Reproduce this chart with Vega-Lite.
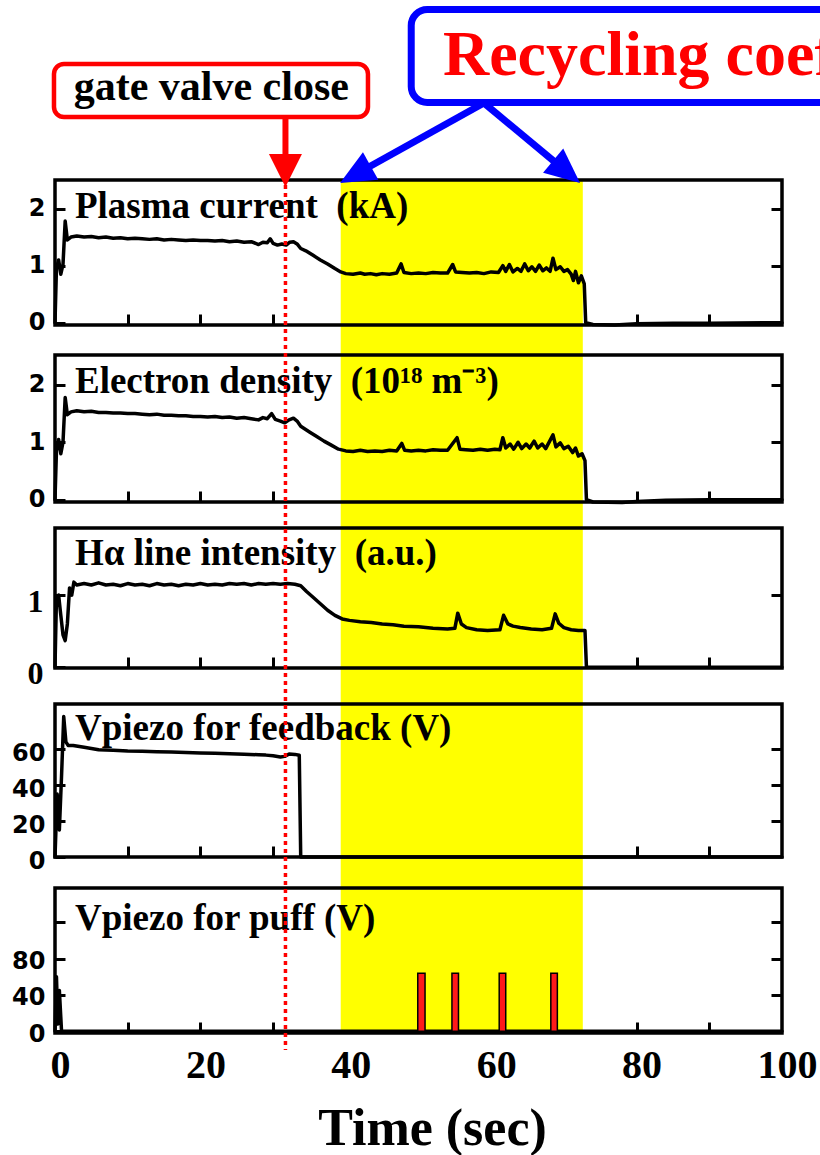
{
  "$schema": "https://vega.github.io/schema/vega-lite/v6.json",
  "width": 727,
  "height": 853,
  "autosize": {"type": "none"},
  "padding": {"left": 55, "top": 180, "right": 38, "bottom": 122},
  "background": "white",
  "config": {
    "view": {"stroke": null},
    "font": "Liberation Serif",
    "axis": {"grid": false, "domain": false, "labelColor": "black", "tickColor": "black", "tickWidth": 3, "titleColor": "black"}
  },
  "datasets": {
    "ip": [
      {"t": 0, "v": 0}, {"t": 0.2, "v": 0.95}, {"t": 0.5, "v": 1.1}, {"t": 0.8, "v": 0.85}, {"t": 1.1, "v": 1.02}, {"t": 1.4, "v": 1.78}, {"t": 1.7, "v": 1.45}, {"t": 2.2, "v": 1.5}, {"t": 3, "v": 1.52}, {"t": 4, "v": 1.5}, {"t": 5, "v": 1.51}, {"t": 6, "v": 1.49}, {"t": 7, "v": 1.5}, {"t": 8, "v": 1.48}, {"t": 9, "v": 1.49}, {"t": 10, "v": 1.47}, {"t": 11, "v": 1.48}, {"t": 12, "v": 1.47}, {"t": 13, "v": 1.46}, {"t": 14, "v": 1.47}, {"t": 15, "v": 1.45}, {"t": 16, "v": 1.46}, {"t": 17, "v": 1.45}, {"t": 18, "v": 1.44}, {"t": 19, "v": 1.45}, {"t": 20, "v": 1.44}, {"t": 21, "v": 1.44}, {"t": 22, "v": 1.43}, {"t": 23, "v": 1.44}, {"t": 24, "v": 1.42}, {"t": 25, "v": 1.43}, {"t": 26, "v": 1.41}, {"t": 27, "v": 1.42}, {"t": 28, "v": 1.37}, {"t": 28.6, "v": 1.41}, {"t": 29.2, "v": 1.4}, {"t": 29.6, "v": 1.47}, {"t": 30, "v": 1.39}, {"t": 30.6, "v": 1.36}, {"t": 31.2, "v": 1.38}, {"t": 31.8, "v": 1.36}, {"t": 32.3, "v": 1.41}, {"t": 32.8, "v": 1.42}, {"t": 33.3, "v": 1.38}, {"t": 33.8, "v": 1.3}, {"t": 34.5, "v": 1.26}, {"t": 35.5, "v": 1.18}, {"t": 36.5, "v": 1.1}, {"t": 37.5, "v": 1.03}, {"t": 38.5, "v": 0.95}, {"t": 39.3, "v": 0.89}, {"t": 40, "v": 0.86}, {"t": 41, "v": 0.85}, {"t": 42, "v": 0.87}, {"t": 42.6, "v": 0.85}, {"t": 43.4, "v": 0.86}, {"t": 44.2, "v": 0.84}, {"t": 45, "v": 0.86}, {"t": 46, "v": 0.85}, {"t": 47, "v": 0.87}, {"t": 47.6, "v": 1.03}, {"t": 48, "v": 0.88}, {"t": 49, "v": 0.86}, {"t": 50, "v": 0.87}, {"t": 51, "v": 0.86}, {"t": 52, "v": 0.88}, {"t": 53, "v": 0.87}, {"t": 54, "v": 0.87}, {"t": 54.7, "v": 1.02}, {"t": 55.1, "v": 0.89}, {"t": 56, "v": 0.88}, {"t": 57, "v": 0.87}, {"t": 58, "v": 0.88}, {"t": 59, "v": 0.86}, {"t": 60, "v": 0.89}, {"t": 61, "v": 0.88}, {"t": 61.6, "v": 1.0}, {"t": 62, "v": 0.9}, {"t": 62.5, "v": 1.02}, {"t": 63, "v": 0.89}, {"t": 63.6, "v": 0.95}, {"t": 64.1, "v": 0.9}, {"t": 64.6, "v": 1.03}, {"t": 65.1, "v": 0.91}, {"t": 65.6, "v": 0.98}, {"t": 66.1, "v": 0.9}, {"t": 66.6, "v": 1.01}, {"t": 67.1, "v": 0.91}, {"t": 67.6, "v": 0.96}, {"t": 68.1, "v": 0.9}, {"t": 68.5, "v": 1.13}, {"t": 68.9, "v": 0.93}, {"t": 69.5, "v": 0.98}, {"t": 70, "v": 0.9}, {"t": 70.5, "v": 0.93}, {"t": 71, "v": 0.85}, {"t": 71.3, "v": 0.74}, {"t": 71.6, "v": 0.9}, {"t": 72, "v": 0.7}, {"t": 72.4, "v": 0.82}, {"t": 72.8, "v": 0.68}, {"t": 73, "v": 0}, {"t": 74, "v": -0.03}, {"t": 77, "v": -0.04}, {"t": 80, "v": -0.02}, {"t": 85, "v": -0.01}, {"t": 90, "v": -0.01}, {"t": 100, "v": 0}
    ],
    "ne": [
      {"t": 0, "v": 0}, {"t": 0.2, "v": 0.85}, {"t": 0.5, "v": 1.05}, {"t": 0.8, "v": 0.8}, {"t": 1.1, "v": 1.0}, {"t": 1.4, "v": 1.78}, {"t": 1.7, "v": 1.48}, {"t": 2.2, "v": 1.53}, {"t": 3, "v": 1.55}, {"t": 4, "v": 1.53}, {"t": 5, "v": 1.54}, {"t": 6, "v": 1.52}, {"t": 7, "v": 1.52}, {"t": 8, "v": 1.51}, {"t": 9, "v": 1.51}, {"t": 10, "v": 1.5}, {"t": 11, "v": 1.5}, {"t": 12, "v": 1.49}, {"t": 13, "v": 1.48}, {"t": 14, "v": 1.49}, {"t": 15, "v": 1.47}, {"t": 16, "v": 1.47}, {"t": 17, "v": 1.46}, {"t": 18, "v": 1.46}, {"t": 19, "v": 1.45}, {"t": 20, "v": 1.45}, {"t": 21, "v": 1.44}, {"t": 22, "v": 1.45}, {"t": 23, "v": 1.43}, {"t": 24, "v": 1.44}, {"t": 25, "v": 1.42}, {"t": 26, "v": 1.43}, {"t": 27, "v": 1.41}, {"t": 28, "v": 1.39}, {"t": 28.6, "v": 1.43}, {"t": 29.2, "v": 1.41}, {"t": 29.8, "v": 1.5}, {"t": 30.3, "v": 1.4}, {"t": 31, "v": 1.37}, {"t": 31.6, "v": 1.34}, {"t": 32.2, "v": 1.39}, {"t": 32.8, "v": 1.42}, {"t": 33.3, "v": 1.37}, {"t": 33.8, "v": 1.28}, {"t": 35, "v": 1.18}, {"t": 36, "v": 1.1}, {"t": 37, "v": 1.02}, {"t": 38, "v": 0.95}, {"t": 39, "v": 0.88}, {"t": 40, "v": 0.85}, {"t": 41, "v": 0.84}, {"t": 42, "v": 0.86}, {"t": 43, "v": 0.84}, {"t": 44, "v": 0.85}, {"t": 45, "v": 0.84}, {"t": 46, "v": 0.86}, {"t": 47, "v": 0.85}, {"t": 47.7, "v": 0.98}, {"t": 48.1, "v": 0.86}, {"t": 49, "v": 0.85}, {"t": 50, "v": 0.86}, {"t": 51, "v": 0.85}, {"t": 52, "v": 0.87}, {"t": 53, "v": 0.86}, {"t": 54, "v": 0.86}, {"t": 55.3, "v": 1.08}, {"t": 55.7, "v": 0.88}, {"t": 56.5, "v": 0.87}, {"t": 57.5, "v": 0.86}, {"t": 58.5, "v": 0.88}, {"t": 59.5, "v": 0.86}, {"t": 60.5, "v": 0.88}, {"t": 61.2, "v": 0.87}, {"t": 61.6, "v": 1.08}, {"t": 62, "v": 0.9}, {"t": 62.6, "v": 0.97}, {"t": 63.1, "v": 0.88}, {"t": 63.7, "v": 1.0}, {"t": 64.2, "v": 0.89}, {"t": 64.8, "v": 0.97}, {"t": 65.3, "v": 0.9}, {"t": 65.9, "v": 1.02}, {"t": 66.4, "v": 0.9}, {"t": 67, "v": 0.97}, {"t": 67.5, "v": 0.89}, {"t": 68.5, "v": 1.13}, {"t": 68.9, "v": 0.92}, {"t": 69.5, "v": 0.99}, {"t": 70, "v": 0.89}, {"t": 70.6, "v": 0.93}, {"t": 71.2, "v": 0.82}, {"t": 71.6, "v": 0.9}, {"t": 72, "v": 0.76}, {"t": 72.5, "v": 0.8}, {"t": 72.9, "v": 0.68}, {"t": 73.1, "v": 0}, {"t": 74, "v": -0.04}, {"t": 78, "v": -0.05}, {"t": 80, "v": -0.03}, {"t": 84, "v": -0.01}, {"t": 90, "v": 0}, {"t": 100, "v": 0}
    ],
    "ha": [
      {"t": 0, "v": 0}, {"t": 0.2, "v": 0.95}, {"t": 0.5, "v": 1.0}, {"t": 0.8, "v": 0.72}, {"t": 1.1, "v": 0.45}, {"t": 1.4, "v": 0.37}, {"t": 1.7, "v": 0.6}, {"t": 2.0, "v": 1.1}, {"t": 2.3, "v": 1.0}, {"t": 2.6, "v": 1.18}, {"t": 3, "v": 1.14}, {"t": 4, "v": 1.16}, {"t": 5, "v": 1.14}, {"t": 6, "v": 1.17}, {"t": 7, "v": 1.14}, {"t": 8, "v": 1.15}, {"t": 9, "v": 1.13}, {"t": 10, "v": 1.16}, {"t": 11, "v": 1.14}, {"t": 12, "v": 1.15}, {"t": 13, "v": 1.13}, {"t": 14, "v": 1.16}, {"t": 15, "v": 1.14}, {"t": 16, "v": 1.15}, {"t": 17, "v": 1.13}, {"t": 18, "v": 1.15}, {"t": 19, "v": 1.14}, {"t": 20, "v": 1.16}, {"t": 21, "v": 1.14}, {"t": 22, "v": 1.15}, {"t": 23, "v": 1.14}, {"t": 24, "v": 1.16}, {"t": 25, "v": 1.15}, {"t": 26, "v": 1.16}, {"t": 27, "v": 1.14}, {"t": 28, "v": 1.16}, {"t": 29, "v": 1.15}, {"t": 30, "v": 1.16}, {"t": 31, "v": 1.15}, {"t": 32, "v": 1.16}, {"t": 33, "v": 1.15}, {"t": 33.8, "v": 1.13}, {"t": 34.6, "v": 1.05}, {"t": 35.5, "v": 0.97}, {"t": 36.5, "v": 0.88}, {"t": 37.5, "v": 0.79}, {"t": 38.5, "v": 0.72}, {"t": 39.5, "v": 0.67}, {"t": 40.5, "v": 0.65}, {"t": 42, "v": 0.63}, {"t": 43.5, "v": 0.62}, {"t": 45, "v": 0.6}, {"t": 46.5, "v": 0.59}, {"t": 48, "v": 0.57}, {"t": 50, "v": 0.56}, {"t": 52, "v": 0.54}, {"t": 54, "v": 0.53}, {"t": 55, "v": 0.54}, {"t": 55.4, "v": 0.75}, {"t": 55.9, "v": 0.6}, {"t": 56.6, "v": 0.55}, {"t": 58, "v": 0.52}, {"t": 59.5, "v": 0.51}, {"t": 61.2, "v": 0.52}, {"t": 61.7, "v": 0.72}, {"t": 62.3, "v": 0.6}, {"t": 63, "v": 0.57}, {"t": 64, "v": 0.55}, {"t": 65.5, "v": 0.53}, {"t": 67, "v": 0.52}, {"t": 68.3, "v": 0.54}, {"t": 68.8, "v": 0.74}, {"t": 69.3, "v": 0.61}, {"t": 70, "v": 0.55}, {"t": 71, "v": 0.52}, {"t": 72, "v": 0.51}, {"t": 72.9, "v": 0.51}, {"t": 73.1, "v": 0}, {"t": 100, "v": 0}
    ],
    "vfb": [
      {"t": 0, "v": 0}, {"t": 0.3, "v": 35}, {"t": 0.6, "v": 15}, {"t": 0.9, "v": 45}, {"t": 1.2, "v": 78}, {"t": 1.5, "v": 64}, {"t": 1.8, "v": 62}, {"t": 2.5, "v": 62}, {"t": 4, "v": 61}, {"t": 6, "v": 59.6}, {"t": 8, "v": 59.3}, {"t": 10, "v": 58.9}, {"t": 12, "v": 58.8}, {"t": 14, "v": 58.5}, {"t": 16, "v": 58.3}, {"t": 18, "v": 58}, {"t": 20, "v": 57.8}, {"t": 22, "v": 57.6}, {"t": 24, "v": 57.3}, {"t": 26, "v": 57.1}, {"t": 28, "v": 56.8}, {"t": 29, "v": 56.6}, {"t": 30, "v": 56.2}, {"t": 31, "v": 55.6}, {"t": 31.6, "v": 55.9}, {"t": 32.2, "v": 57.2}, {"t": 33, "v": 57}, {"t": 33.6, "v": 56.5}, {"t": 33.8, "v": 0}, {"t": 100, "v": 0}
    ],
    "vpuff": [
      {"t": 0, "v": 0}, {"t": 0.2, "v": 60}, {"t": 0.4, "v": 8}, {"t": 0.6, "v": 45}, {"t": 0.9, "v": 0}, {"t": 100, "v": 0}
    ],
    "puffs": [
      {"start": 49.9, "end": 50.9, "v": 64},
      {"start": 54.6, "end": 55.5, "v": 64},
      {"start": 61.1, "end": 62.0, "v": 64},
      {"start": 68.2, "end": 69.1, "v": 64}
    ]
  },
  "layer": [
    {
      "data": {"values": [{"start": 39.3, "end": 72.6}]},
      "mark": {"type": "rect", "color": "#ffff00", "opacity": 1},
      "encoding": {
        "x": {"field": "start", "type": "quantitative", "scale": {"domain": [0, 100], "nice": false, "zero": false}, "axis": null},
        "x2": {"field": "end"}
      }
    },
    {
      "layer": [
        {
          "data": {"name": "ip"},
          "mark": {"type": "line", "color": "black", "strokeWidth": 3.5, "strokeJoin": "round", "strokeCap": "round"},
          "encoding": {
            "x": {"field": "t", "type": "quantitative", "scale": {"domain": [0, 100], "nice": false, "zero": false}, "axis": null},
            "y": {"field": "v", "type": "quantitative", "scale": {"domain": [-0.04, 2.5], "range": [145, 0], "nice": false, "zero": false},
              "axis": {"orient": "left", "values": [0, 1, 2], "tickSize": -10, "labelPadding": 20, "labelFont": "DejaVu Sans", "labelFontWeight": "bold", "labelFontSize": 24, "title": null}}
          }
        },
        {
          "data": {"values": [{}]},
          "mark": {"type": "rect", "filled": false, "color": "black", "strokeWidth": 3.5},
          "encoding": {
            "x": {"datum": 0, "type": "quantitative", "scale": {"domain": [0, 100], "nice": false, "zero": false},
              "axis": {"orient": "bottom", "offset": -708, "values": [10, 20, 30, 40, 50, 60, 70, 80, 90], "labels": false, "tickSize": -11, "title": null}},
            "x2": {"datum": 100},
            "y": {"datum": -0.04, "type": "quantitative", "scale": {"domain": [-0.04, 2.5], "range": [145, 0], "nice": false, "zero": false},
              "axis": {"orient": "right", "values": [1, 2], "labels": false, "tickSize": -11, "title": null}},
            "y2": {"datum": 2.5}
          }
        },
        {
          "data": {"values": [{}]},
          "mark": {"type": "text", "text": "Plasma current\u00a0 (kA)", "align": "left", "baseline": "alphabetic", "font": "Liberation Serif", "fontWeight": "bold", "fontSize": 37, "color": "black"},
          "encoding": {
            "x": {"datum": 2.75, "type": "quantitative", "scale": {"domain": [0, 100], "nice": false, "zero": false}, "axis": null},
            "y": {"datum": 1.834, "type": "quantitative", "scale": {"domain": [-0.04, 2.5], "range": [145, 0], "nice": false, "zero": false}, "axis": null}
          }
        }
      ],
      "resolve": {"axis": {"x": "independent", "y": "independent"}}
    },
    {
      "layer": [
        {
          "data": {"name": "ne"},
          "mark": {"type": "line", "color": "black", "strokeWidth": 3.5, "strokeJoin": "round", "strokeCap": "round"},
          "encoding": {
            "x": {"field": "t", "type": "quantitative", "scale": {"domain": [0, 100], "nice": false, "zero": false}, "axis": null},
            "y": {"field": "v", "type": "quantitative", "scale": {"domain": [-0.04, 2.52], "range": [322, 175], "nice": false, "zero": false},
              "axis": {"orient": "left", "values": [0, 1, 2], "tickSize": -10, "labelPadding": 20, "labelFont": "DejaVu Sans", "labelFontWeight": "bold", "labelFontSize": 24, "title": null}}
          }
        },
        {
          "data": {"values": [{}]},
          "mark": {"type": "rect", "filled": false, "color": "black", "strokeWidth": 3.5},
          "encoding": {
            "x": {"datum": 0, "type": "quantitative", "scale": {"domain": [0, 100], "nice": false, "zero": false},
              "axis": {"orient": "bottom", "offset": -531, "values": [10, 20, 30, 40, 50, 60, 70, 80, 90], "labels": false, "tickSize": -11, "title": null}},
            "x2": {"datum": 100},
            "y": {"datum": -0.04, "type": "quantitative", "scale": {"domain": [-0.04, 2.52], "range": [322, 175], "nice": false, "zero": false},
              "axis": {"orient": "right", "values": [1, 2], "labels": false, "tickSize": -11, "title": null}},
            "y2": {"datum": 2.52}
          }
        },
        {
          "data": {"values": [{}]},
          "mark": {"type": "text", "text": "Electron density\u00a0 (10¹⁸ m⁻³)", "align": "left", "baseline": "alphabetic", "font": "Liberation Serif", "fontWeight": "bold", "fontSize": 37, "color": "black"},
          "encoding": {
            "x": {"datum": 2.75, "type": "quantitative", "scale": {"domain": [0, 100], "nice": false, "zero": false}, "axis": null},
            "y": {"datum": 1.858, "type": "quantitative", "scale": {"domain": [-0.04, 2.52], "range": [322, 175], "nice": false, "zero": false}, "axis": null}
          }
        }
      ],
      "resolve": {"axis": {"x": "independent", "y": "independent"}}
    },
    {
      "layer": [
        {
          "data": {"name": "ha"},
          "mark": {"type": "line", "color": "black", "strokeWidth": 3.5, "strokeJoin": "round", "strokeCap": "round"},
          "encoding": {
            "x": {"field": "t", "type": "quantitative", "scale": {"domain": [0, 100], "nice": false, "zero": false}, "axis": null},
            "y": {"field": "v", "type": "quantitative", "scale": {"domain": [-0.01, 1.93], "range": [488, 348], "nice": false, "zero": false},
              "axis": {"orient": "left", "values": [0, 1], "tickSize": -10, "labelPadding": 22, "labelOffset": 6, "labelFont": "Liberation Serif", "labelFontWeight": "bold", "labelFontSize": 32, "title": null}}
          }
        },
        {
          "data": {"values": [{}]},
          "mark": {"type": "rect", "filled": false, "color": "black", "strokeWidth": 3.5},
          "encoding": {
            "x": {"datum": 0, "type": "quantitative", "scale": {"domain": [0, 100], "nice": false, "zero": false},
              "axis": {"orient": "bottom", "offset": -365, "values": [10, 20, 30, 40, 50, 60, 70, 80, 90], "labels": false, "tickSize": -11, "title": null}},
            "x2": {"datum": 100},
            "y": {"datum": -0.01, "type": "quantitative", "scale": {"domain": [-0.01, 1.93], "range": [488, 348], "nice": false, "zero": false},
              "axis": {"orient": "right", "values": [1], "labels": false, "tickSize": -11, "title": null}},
            "y2": {"datum": 1.93}
          }
        },
        {
          "data": {"values": [{}]},
          "mark": {"type": "text", "text": "Hα line intensity\u00a0 (a.u.)", "align": "left", "baseline": "alphabetic", "font": "Liberation Serif", "fontWeight": "bold", "fontSize": 37, "color": "black"},
          "encoding": {
            "x": {"datum": 2.75, "type": "quantitative", "scale": {"domain": [0, 100], "nice": false, "zero": false}, "axis": null},
            "y": {"datum": 1.417, "type": "quantitative", "scale": {"domain": [-0.01, 1.93], "range": [488, 348], "nice": false, "zero": false}, "axis": null}
          }
        }
      ],
      "resolve": {"axis": {"x": "independent", "y": "independent"}}
    },
    {
      "layer": [
        {
          "data": {"name": "vfb"},
          "mark": {"type": "line", "color": "black", "strokeWidth": 3.5, "strokeJoin": "round", "strokeCap": "round"},
          "encoding": {
            "x": {"field": "t", "type": "quantitative", "scale": {"domain": [0, 100], "nice": false, "zero": false}, "axis": null},
            "y": {"field": "v", "type": "quantitative", "scale": {"domain": [0, 85], "range": [677, 524], "nice": false, "zero": false},
              "axis": {"orient": "left", "values": [0, 20, 40, 60], "tickSize": -10, "labelPadding": 20, "labelOffset": 4, "labelFont": "DejaVu Sans", "labelFontWeight": "bold", "labelFontSize": 24, "title": null}}
          }
        },
        {
          "data": {"values": [{}]},
          "mark": {"type": "rect", "filled": false, "color": "black", "strokeWidth": 3.5},
          "encoding": {
            "x": {"datum": 0, "type": "quantitative", "scale": {"domain": [0, 100], "nice": false, "zero": false},
              "axis": {"orient": "bottom", "offset": -176, "values": [10, 20, 30, 40, 50, 60, 70, 80, 90], "labels": false, "tickSize": -11, "title": null}},
            "x2": {"datum": 100},
            "y": {"datum": 0, "type": "quantitative", "scale": {"domain": [0, 85], "range": [677, 524], "nice": false, "zero": false},
              "axis": {"orient": "right", "values": [20, 40, 60], "labels": false, "tickSize": -11, "title": null}},
            "y2": {"datum": 85}
          }
        },
        {
          "data": {"values": [{}]},
          "mark": {"type": "text", "text": "Vpiezo for feedback (V)", "align": "left", "baseline": "alphabetic", "font": "Liberation Serif", "fontWeight": "bold", "fontSize": 37, "color": "black"},
          "encoding": {
            "x": {"datum": 2.75, "type": "quantitative", "scale": {"domain": [0, 100], "nice": false, "zero": false}, "axis": null},
            "y": {"datum": 65, "type": "quantitative", "scale": {"domain": [0, 85], "range": [677, 524], "nice": false, "zero": false}, "axis": null}
          }
        }
      ],
      "resolve": {"axis": {"x": "independent", "y": "independent"}}
    },
    {
      "layer": [
        {
          "data": {"name": "vpuff"},
          "mark": {"type": "line", "color": "black", "strokeWidth": 3.5, "strokeJoin": "round", "strokeCap": "round"},
          "encoding": {
            "x": {"field": "t", "type": "quantitative", "scale": {"domain": [0, 100], "nice": false, "zero": false},
              "axis": {"orient": "bottom", "values": [0, 20, 40, 60, 80, 100], "ticks": false, "labelPadding": 12, "labelOffset": 5, "labelFlush": false, "labelOverlap": false, "labelFont": "Liberation Serif", "labelFontWeight": "bold", "labelFontSize": 40,
                "title": "Time (sec)", "titleFont": "Liberation Serif", "titleFontWeight": "bold", "titleFontSize": 52, "titleBaseline": "alphabetic", "titleX": 377, "titleY": 111}},
            "y": {"field": "v", "type": "quantitative", "scale": {"domain": [-2, 158], "range": [853, 708], "nice": false, "zero": false},
              "axis": {"orient": "left", "values": [0, 40, 80, 120], "labelExpr": "datum.value == 120 ? '' : datum.label", "tickSize": -10, "labelPadding": 20, "labelOffset": 3, "labelFont": "DejaVu Sans", "labelFontWeight": "bold", "labelFontSize": 24, "title": null}}
          }
        },
        {
          "data": {"name": "puffs"},
          "mark": {"type": "rect", "color": "#ff1a1a", "stroke": "black", "strokeWidth": 1.5},
          "encoding": {
            "x": {"field": "start", "type": "quantitative", "scale": {"domain": [0, 100], "nice": false, "zero": false}, "axis": null},
            "x2": {"field": "end"},
            "y": {"field": "v", "type": "quantitative", "scale": {"domain": [-2, 158], "range": [853, 708], "nice": false, "zero": false}, "axis": null},
            "y2": {"datum": 0}
          }
        },
        {
          "data": {"values": [{}]},
          "mark": {"type": "rect", "filled": false, "color": "black", "strokeWidth": 3.5},
          "encoding": {
            "x": {"datum": 0, "type": "quantitative", "scale": {"domain": [0, 100], "nice": false, "zero": false},
              "axis": {"orient": "bottom", "values": [10, 20, 30, 40, 50, 60, 70, 80, 90], "labels": false, "tickSize": -11, "title": null}},
            "x2": {"datum": 100},
            "y": {"datum": -2, "type": "quantitative", "scale": {"domain": [-2, 158], "range": [853, 708], "nice": false, "zero": false},
              "axis": {"orient": "right", "values": [40, 80, 120], "labels": false, "tickSize": -11, "title": null}},
            "y2": {"datum": 158}
          }
        },
        {
          "data": {"values": [{}]},
          "mark": {"type": "text", "text": "Vpiezo for puff (V)", "align": "left", "baseline": "alphabetic", "font": "Liberation Serif", "fontWeight": "bold", "fontSize": 37, "color": "black"},
          "encoding": {
            "x": {"datum": 2.75, "type": "quantitative", "scale": {"domain": [0, 100], "nice": false, "zero": false}, "axis": null},
            "y": {"datum": 111.7, "type": "quantitative", "scale": {"domain": [-2, 158], "range": [853, 708], "nice": false, "zero": false}, "axis": null}
          }
        }
      ],
      "resolve": {"axis": {"x": "independent", "y": "independent"}}
    },
    {
      "data": {"values": [{}]},
      "layer": [
        {
          "mark": {"type": "rect", "fill": "white", "stroke": "#ff0000", "strokeWidth": 4.5, "cornerRadius": 10},
          "encoding": {
            "x": {"datum": -0.14, "type": "quantitative", "scale": {"domain": [0, 100], "nice": false, "zero": false}, "axis": null},
            "x2": {"datum": 43.05},
            "y": {"datum": 5.54, "type": "quantitative", "scale": {"domain": [0, 100], "range": [-180, 975], "nice": false, "zero": false}, "axis": null},
            "y2": {"datum": 10.13}
          }
        },
        {
          "mark": {"type": "text", "text": "gate valve close", "align": "center", "baseline": "alphabetic", "font": "Liberation Serif", "fontWeight": "bold", "fontSize": 42, "color": "black"},
          "encoding": {
            "x": {"datum": 21.5, "type": "quantitative", "scale": {"domain": [0, 100], "nice": false, "zero": false}, "axis": null},
            "y": {"datum": 8.7, "type": "quantitative", "scale": {"domain": [0, 100], "range": [-180, 975], "nice": false, "zero": false}, "axis": null}
          }
        },
        {
          "mark": {"type": "rule", "color": "#ff0000", "strokeWidth": 6},
          "encoding": {
            "x": {"datum": 31.7, "type": "quantitative", "scale": {"domain": [0, 100], "nice": false, "zero": false}, "axis": null},
            "y": {"datum": 10.13, "type": "quantitative", "scale": {"domain": [0, 100], "range": [-180, 975], "nice": false, "zero": false}, "axis": null},
            "y2": {"datum": 14.5}
          }
        },
        {
          "mark": {"type": "point", "shape": "M0,1L-1,-1L1,-1Z", "filled": true, "color": "#ff0000", "opacity": 1, "size": 1089, "strokeWidth": 0},
          "encoding": {
            "x": {"datum": 31.7, "type": "quantitative", "scale": {"domain": [0, 100], "nice": false, "zero": false}, "axis": null},
            "y": {"datum": 14.76, "type": "quantitative", "scale": {"domain": [0, 100], "range": [-180, 975], "nice": false, "zero": false}, "axis": null}
          }
        },
        {
          "mark": {"type": "rect", "fill": "white", "stroke": "#0000ff", "strokeWidth": 7, "cornerRadius": 16},
          "encoding": {
            "x": {"datum": 49.0, "type": "quantitative", "scale": {"domain": [0, 100], "nice": false, "zero": false}, "axis": null},
            "x2": {"datum": 110},
            "y": {"datum": 0.82, "type": "quantitative", "scale": {"domain": [0, 100], "range": [-180, 975], "nice": false, "zero": false}, "axis": null},
            "y2": {"datum": 8.87}
          }
        },
        {
          "mark": {"type": "text", "text": "Recycling coefficient", "align": "left", "baseline": "alphabetic", "font": "Liberation Serif", "fontWeight": "bold", "fontSize": 64, "color": "#ff0000"},
          "encoding": {
            "x": {"datum": 53.37, "type": "quantitative", "scale": {"domain": [0, 100], "nice": false, "zero": false}, "axis": null},
            "y": {"datum": 6.49, "type": "quantitative", "scale": {"domain": [0, 100], "range": [-180, 975], "nice": false, "zero": false}, "axis": null}
          }
        },
        {
          "mark": {"type": "rule", "color": "#0000ff", "strokeWidth": 7},
          "encoding": {
            "x": {"datum": 59.0, "type": "quantitative", "scale": {"domain": [0, 100], "nice": false, "zero": false}, "axis": null},
            "x2": {"datum": 41.31},
            "y": {"datum": 8.92, "type": "quantitative", "scale": {"domain": [0, 100], "range": [-180, 975], "nice": false, "zero": false}, "axis": null},
            "y2": {"datum": 15.11}
          }
        },
        {
          "mark": {"type": "rule", "color": "#0000ff", "strokeWidth": 7},
          "encoding": {
            "x": {"datum": 59.0, "type": "quantitative", "scale": {"domain": [0, 100], "nice": false, "zero": false}, "axis": null},
            "x2": {"datum": 70.37},
            "y": {"datum": 8.92, "type": "quantitative", "scale": {"domain": [0, 100], "range": [-180, 975], "nice": false, "zero": false}, "axis": null},
            "y2": {"datum": 14.87}
          }
        },
        {
          "mark": {"type": "point", "shape": "M0,-1L-0.9,1L0.9,1Z", "filled": true, "color": "#0000ff", "opacity": 1, "size": 1225, "strokeWidth": 0, "angle": 240.9},
          "encoding": {
            "x": {"datum": 41.31, "type": "quantitative", "scale": {"domain": [0, 100], "nice": false, "zero": false}, "axis": null},
            "y": {"datum": 15.11, "type": "quantitative", "scale": {"domain": [0, 100], "range": [-180, 975], "nice": false, "zero": false}, "axis": null}
          }
        },
        {
          "mark": {"type": "point", "shape": "M0,-1L-0.9,1L0.9,1Z", "filled": true, "color": "#0000ff", "opacity": 1, "size": 1225, "strokeWidth": 0, "angle": 129.8},
          "encoding": {
            "x": {"datum": 70.37, "type": "quantitative", "scale": {"domain": [0, 100], "nice": false, "zero": false}, "axis": null},
            "y": {"datum": 14.87, "type": "quantitative", "scale": {"domain": [0, 100], "range": [-180, 975], "nice": false, "zero": false}, "axis": null}
          }
        },
        {
          "mark": {"type": "rule", "color": "#ff0000", "strokeWidth": 3.5, "strokeDash": [4, 4]},
          "encoding": {
            "x": {"datum": 31.7, "type": "quantitative", "scale": {"domain": [0, 100], "nice": false, "zero": false}, "axis": null},
            "y": {"datum": 16.02, "type": "quantitative", "scale": {"domain": [0, 100], "range": [-180, 975], "nice": false, "zero": false}, "axis": null},
            "y2": {"datum": 90.91}
          }
        }
      ]
    }
  ],
  "resolve": {"scale": {"y": "independent"}, "axis": {"x": "independent", "y": "independent"}}
}
